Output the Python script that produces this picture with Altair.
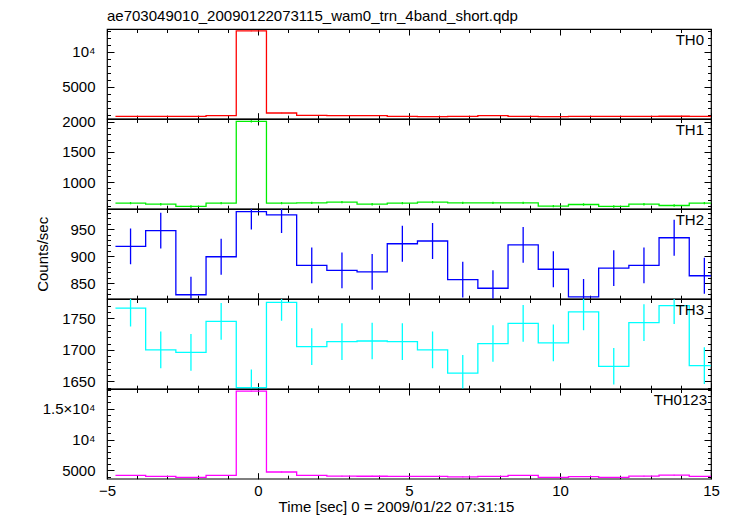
import altair as alt
import pandas as pd

# ---- data ----
bin_centers = [-4.22, -3.22, -2.22, -1.22, -0.22, 0.78, 1.78, 2.78, 3.78, 4.78,
               5.78, 6.78, 7.78, 8.78, 9.78, 10.78, 11.78, 12.78, 13.78, 14.78]
bin_half = 0.5

th0 = [814, 814, 790, 900, 12960, 1285, 956, 900, 900, 814,
       757, 800, 900, 814, 757, 814, 800, 814, 820, 814]
th0_err = [30] * 20
th1 = [650, 633, 595, 650, 2005, 650, 655, 667, 633, 650,
       667, 655, 655, 655, 600, 628, 595, 633, 611, 650]
th1_err = [20] * 20
th2 = [918, 947, 829, 899, 982, 976, 883, 874, 871, 923,
       928, 857, 841, 921, 876, 825, 878, 883, 934, 864]
th2_err = [33] * 20
th3 = [1766, 1700, 1696, 1745, 1640, 1775, 1705, 1713, 1714, 1713,
       1700, 1663, 1710, 1742, 1711, 1760, 1674, 1743, 1770, 1675]
th3_err = [29] * 20
th0123 = [4194, 4032, 3871, 4194, 17823, 4742, 4194, 4085, 4060, 4032,
          4032, 3960, 4032, 4194, 3871, 3990, 3871, 4085, 4250, 4032]
th0123_err = [65] * 20

x_major = [-5, 0, 5, 10, 15]
x_minor = list(range(-5, 16))

panels = [
    dict(name="TH0", vals=th0, err=th0_err, color="#ff0000", dom=[470, 13240],
         major=[5000, 10000], minor=list(range(1000, 13001, 1000)),
         expr="datum.value == 10000 ? '10⁴' : datum.label"),
    dict(name="TH1", vals=th1, err=th1_err, color="#00ee00", dom=[558, 2045],
         major=[1000, 1500, 2000], minor=list(range(600, 2001, 100)),
         expr="datum.label"),
    dict(name="TH2", vals=th2, err=th2_err, color="#0000ff", dom=[821.7, 987],
         major=[850, 900, 950], minor=list(range(830, 981, 10)),
         expr="datum.label"),
    dict(name="TH3", vals=th3, err=th3_err, color="#00ffff", dom=[1638.5, 1780.5],
         major=[1650, 1700, 1750], minor=list(range(1640, 1781, 10)),
         expr="datum.label"),
    dict(name="TH0123", vals=th0123, err=th0123_err, color="#ff00ff", dom=[3661, 18177],
         major=[5000, 10000, 15000], minor=list(range(4000, 18001, 1000)),
         expr="datum.value == 10000 ? '10⁴' : datum.value == 15000 ? '1.5×10⁴' : datum.label"),
]

W = 604
H = 89.7


def make_panel(p, idx):
    last = idx == len(panels) - 1
    line_df = pd.DataFrame({
        "t": [c - bin_half for c in bin_centers] + [bin_centers[-1] + bin_half],
        "v": p["vals"] + [p["vals"][-1]],
    })
    err_df = pd.DataFrame({
        "t": bin_centers,
        "v": p["vals"],
        "lo": [v - e for v, e in zip(p["vals"], p["err"])],
        "hi": [v + e for v, e in zip(p["vals"], p["err"])],
    })
    xs = alt.Scale(domain=[-5, 15], nice=False, zero=False)
    ys = alt.Scale(domain=p["dom"], nice=False, zero=False)

    if last:
        x_bottom_major = alt.Axis(orient="bottom", values=x_major, tickSize=6, offset=-6,
                                  domain=False, grid=False, labels=True, format="d",
                                  labelFlush=False, labelPadding=5,
                                  title="Time [sec] 0 = 2009/01/22 07:31:15",
                                  titlePadding=1, titleX=289)
    else:
        x_bottom_major = alt.Axis(orient="bottom", values=x_major, tickSize=6, offset=-6,
                                  domain=False, grid=False, labels=False, title=None)
    if p["name"] == "TH2":
        y_left_major = alt.Axis(orient="left", values=p["major"], tickSize=7, offset=-7,
                                domain=False, grid=False, format="d", labelExpr=p["expr"],
                                labelPadding=12, title="Counts/sec", titlePadding=19)
    else:
        y_left_major = alt.Axis(orient="left", values=p["major"], tickSize=7, offset=-7,
                                domain=False, grid=False, format="d", labelExpr=p["expr"],
                                labelPadding=12, title=None)

    line = alt.Chart(line_df).mark_line(interpolate="step-after", color=p["color"],
                                         strokeWidth=1.3, clip=True).encode(
        x=alt.X("t:Q", scale=xs, axis=x_bottom_major),
        y=alt.Y("v:Q", scale=ys, axis=y_left_major),
    )
    bars = alt.Chart(err_df).mark_rule(color=p["color"], strokeWidth=1.3, clip=True).encode(
        x=alt.X("t:Q", scale=xs, axis=alt.Axis(orient="bottom", values=x_minor, tickSize=3.5,
                                                offset=-3.5, domain=False, grid=False,
                                                labels=False, title=None)),
        y=alt.Y("lo:Q", scale=ys, axis=alt.Axis(orient="left", values=p["minor"], tickSize=3.5,
                                                 offset=-3.5, domain=False, grid=False,
                                                 labels=False, title=None)),
        y2="hi:Q",
    )
    top_major = alt.Chart(err_df).mark_point(opacity=0).encode(
        x=alt.X("t:Q", scale=xs, axis=alt.Axis(orient="top", values=x_major, tickSize=6,
                                                offset=-6, domain=False, grid=False,
                                                labels=False, title=None)),
        y=alt.Y("v:Q", scale=ys, axis=alt.Axis(orient="right", values=p["major"], tickSize=7,
                                                offset=-7, domain=False, grid=False,
                                                labels=False, title=None)),
    )
    top_minor = alt.Chart(err_df).mark_point(opacity=0).encode(
        x=alt.X("t:Q", scale=xs, axis=alt.Axis(orient="top", values=x_minor, tickSize=3.5,
                                                offset=-3.5, domain=False, grid=False,
                                                labels=False, title=None)),
        y=alt.Y("v:Q", scale=ys, axis=alt.Axis(orient="right", values=p["minor"], tickSize=3.5,
                                                offset=-3.5, domain=False, grid=False,
                                                labels=False, title=None)),
    )
    label = alt.Chart(pd.DataFrame({"name": [p["name"]]})).mark_text(
        align="right", baseline="alphabetic", fontSize=15, font="Liberation Sans",
        color="black").encode(
        x=alt.value(W - 7 if not last else W - 4),
        y=alt.value(15.5),
        text="name:N",
    )
    layer = alt.layer(line, bars, top_major, top_minor, label).resolve_axis(
        x="independent", y="independent")
    props = dict(width=W, height=H)
    if idx == 0:
        props["title"] = alt.TitleParams(
            "ae703049010_20090122073115_wam0_trn_4band_short.qdp",
            anchor="start", frame="group", fontSize=15, fontWeight="normal",
            font="Liberation Sans", color="black", offset=4)
    return layer.properties(**props)


chart = alt.vconcat(*[make_panel(p, i) for i, p in enumerate(panels)],
                    spacing=0, bounds="flush").properties(
    padding={"left": 27, "top": 0, "right": 5, "bottom": 5}
).configure_view(
    stroke="black", strokeWidth=1.2
).configure_axis(
    labelFont="Liberation Sans", labelFontSize=15, labelColor="black",
    tickColor="black", tickWidth=1, minExtent=0,
    titleFont="Liberation Sans", titleFontSize=15, titleFontWeight="normal", titleColor="black",
).configure_concat(spacing=0)

chart.save("out.html", embed_options={"renderer": "svg", "actions": False})
